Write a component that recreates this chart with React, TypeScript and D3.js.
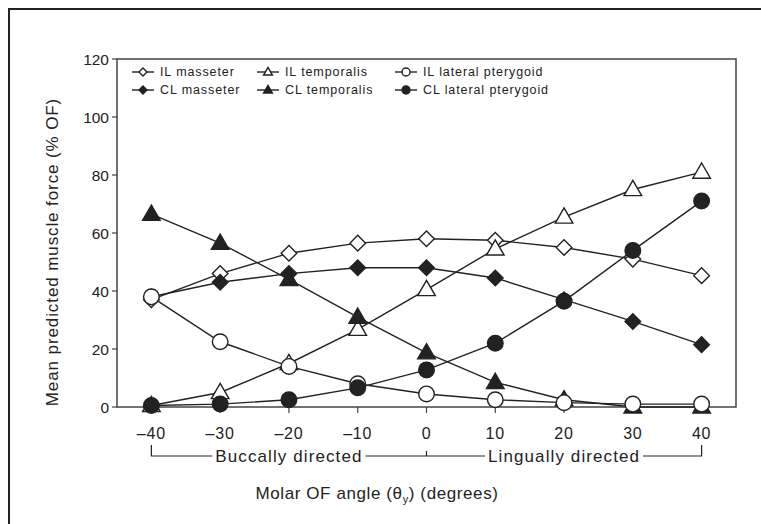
import React, { useLayoutEffect, useRef, useState } from "react";
import * as d3 from "d3";

const angles = [-40, -30, -20, -10, 0, 10, 20, 30, 40];
const ilMasseter = [37, 46, 53, 56.5, 58, 57.5, 55, 51, 45.3];
const clMasseter = [38, 43, 46, 48, 48, 44.5, 37, 29.5, 21.5];
const ilTemporalis = [0.5, 5, 15, 26.8, 40.5, 54.5, 65.5, 75, 81];
const clTemporalis = [66.5, 56.5, 44, 31, 18.7, 8.5, 2.5, 0, 0];
const ilLatPter = [38, 22.5, 14, 8, 4.5, 2.5, 1.5, 1, 1];
const clLatPter = [0.5, 1, 2.5, 6.6, 12.8, 22, 36.5, 54, 71];
const yTicks = [0, 20, 40, 60, 80, 100, 120];
const xTicks = [-40, -30, -20, -10, 0, 10, 20, 30, 40];
const bracketLabels = ["Buccally directed", "Lingually directed"];

type Shape = "diamond" | "triangle" | "circle";
const series: { name: string; values: number[]; shape: Shape; filled: boolean }[] = [
  { name: "IL masseter", values: ilMasseter, shape: "diamond", filled: false },
  { name: "CL masseter", values: clMasseter, shape: "diamond", filled: true },
  { name: "IL temporalis", values: ilTemporalis, shape: "triangle", filled: false },
  { name: "CL temporalis", values: clTemporalis, shape: "triangle", filled: true },
  { name: "IL lateral pterygoid", values: ilLatPter, shape: "circle", filled: false },
  { name: "CL lateral pterygoid", values: clLatPter, shape: "circle", filled: true },
];

const W = 761;
const H = 524;
const L = 117, R = 736, T = 59, B = 407;
const font = "'Liberation Sans', Arial, Helvetica, sans-serif";
const ink = "#222";

function marker(shape: Shape, cx: number, cy: number, s: number, filled: boolean, key?: string) {
  const fill = filled ? ink : "#fff";
  if (shape === "circle") {
    return <circle key={key} cx={cx} cy={cy} r={s} fill={fill} stroke={ink} strokeWidth={1.4} />;
  }
  if (shape === "diamond") {
    const d = s;
    return (
      <path
        key={key}
        d={`M${cx},${cy - d}L${cx + d},${cy}L${cx},${cy + d}L${cx - d},${cy}Z`}
        fill={fill}
        stroke={ink}
        strokeWidth={1.4}
      />
    );
  }
  const h = s * 1.9;
  const w = s * 1.1;
  return (
    <path
      key={key}
      d={`M${cx},${cy - h * 0.6}L${cx + w},${cy + h * 0.4}L${cx - w},${cy + h * 0.4}Z`}
      fill={fill}
      stroke={ink}
      strokeWidth={1.4}
    />
  );
}

export default function App() {
  const x = d3.scaleLinear().domain([-45, 45]).range([L, R]);
  const y = d3.scaleLinear().domain([0, 120]).range([B, T]);
  const line = d3
    .line<number>()
    .x((_, i) => x(angles[i]))
    .y((v) => y(v));

  const legendCols = [132, 257, 395];
  const legendRows = [72, 90];

  const bracketY = 456;
  const t0 = useRef<SVGTextElement>(null);
  const t1 = useRef<SVGTextElement>(null);
  const [widths, setWidths] = useState<[number, number]>([155, 162]);
  useLayoutEffect(() => {
    if (t0.current && t1.current) {
      setWidths([t0.current.getComputedTextLength(), t1.current.getComputedTextLength()]);
    }
  }, []);
  const c0 = (x(-40) + x(0)) / 2;
  const c1 = (x(0) + x(40)) / 2;
  const gap = 3;

  return (
    <svg width={W} height={H} style={{ position: "absolute", left: 0, top: 0 }}>
      <rect width={W} height={H} fill="#fff" />
      <path d={`M9,${H}L9,9L${W},9`} fill="none" stroke={ink} strokeWidth={2} />
      <rect x={L} y={T} width={R - L} height={B - T} fill="none" stroke="#444" strokeWidth={1.5} />
      {yTicks.map((t) => (
        <g key={"yt" + t}>
          <line x1={L - 5} x2={L} y1={y(t)} y2={y(t)} stroke="#444" strokeWidth={1.2} />
          <text x={L - 8} y={y(t)} dy="0.36em" textAnchor="end" fontFamily={font} fontSize={15.5} fill={ink}>
            {t}
          </text>
        </g>
      ))}
      {xTicks.map((t) => (
        <g key={"xt" + t}>
          <line x1={x(t)} x2={x(t)} y1={B} y2={B + 6} stroke="#444" strokeWidth={1.2} />
          <text
            x={x(t)}
            y={B + 32}
            textAnchor="middle"
            fontFamily={font}
            fontSize={16}
            letterSpacing={0.8}
            fill={ink}
          >
            {t < 0 ? "\u2013" + Math.abs(t) : String(t)}
          </text>
        </g>
      ))}
      {series.map((s) => (
        <g key={s.name}>
          <path d={line(s.values) || ""} fill="none" stroke={ink} strokeWidth={1.4} />
          {s.values.map((v, i) =>
            marker(s.shape, x(angles[i]), y(v), s.shape === "triangle" ? 8 : 7.8, s.filled, s.name + i)
          )}
        </g>
      ))}
      {series.map((s, i) => {
        const col = legendCols[Math.floor(i / 2)];
        const row = legendRows[i % 2];
        return (
          <g key={"lg" + s.name}>
            <line x1={col} x2={col + 22} y1={row} y2={row} stroke={ink} strokeWidth={1.4} />
            {marker(s.shape, col + 11, row, 4, s.filled)}
            <text
              x={col + 28}
              y={row}
              dy="0.35em"
              fontFamily={font}
              fontSize={12.5}
              letterSpacing={0.9}
              fill={ink}
            >
              {s.name}
            </text>
          </g>
        );
      })}
      <g stroke={ink} strokeWidth={1.2} fill="none">
        <path d={`M${x(-40)},${bracketY - 11}L${x(-40)},${bracketY}L${c0 - widths[0] / 2 - gap},${bracketY}`} />
        <path d={`M${c0 + widths[0] / 2 + gap},${bracketY}L${c1 - widths[1] / 2 - gap},${bracketY}`} />
        <path d={`M${x(0)},${bracketY - 5}L${x(0)},${bracketY}`} />
        <path d={`M${c1 + widths[1] / 2 + gap},${bracketY}L${x(40)},${bracketY}L${x(40)},${bracketY - 11}`} />
      </g>
      <text
        ref={t0}
        x={c0}
        y={bracketY}
        dy="0.36em"
        textAnchor="middle"
        fontFamily={font}
        fontSize={17}
        letterSpacing={1.1}
        fill={ink}
      >
        {bracketLabels[0]}
      </text>
      <text
        ref={t1}
        x={c1}
        y={bracketY}
        dy="0.36em"
        textAnchor="middle"
        fontFamily={font}
        fontSize={17}
        letterSpacing={1.1}
        fill={ink}
      >
        {bracketLabels[1]}
      </text>
      <text
        x={377}
        y={493}
        dy="0.35em"
        textAnchor="middle"
        fontFamily={font}
        fontSize={17}
        letterSpacing={0.6}
        fill={ink}
      >
        Molar OF angle (θ
        <tspan fontSize={11} dy="4">y</tspan>
        <tspan dy="-4">) (degrees)</tspan>
      </text>
      <text
        transform={`translate(52,252) rotate(-90)`}
        textAnchor="middle"
        dy="0.35em"
        fontFamily={font}
        fontSize={17}
        letterSpacing={0.9}
        fill={ink}
      >
        Mean predicted muscle force (% OF)
      </text>
    </svg>
  );
}
